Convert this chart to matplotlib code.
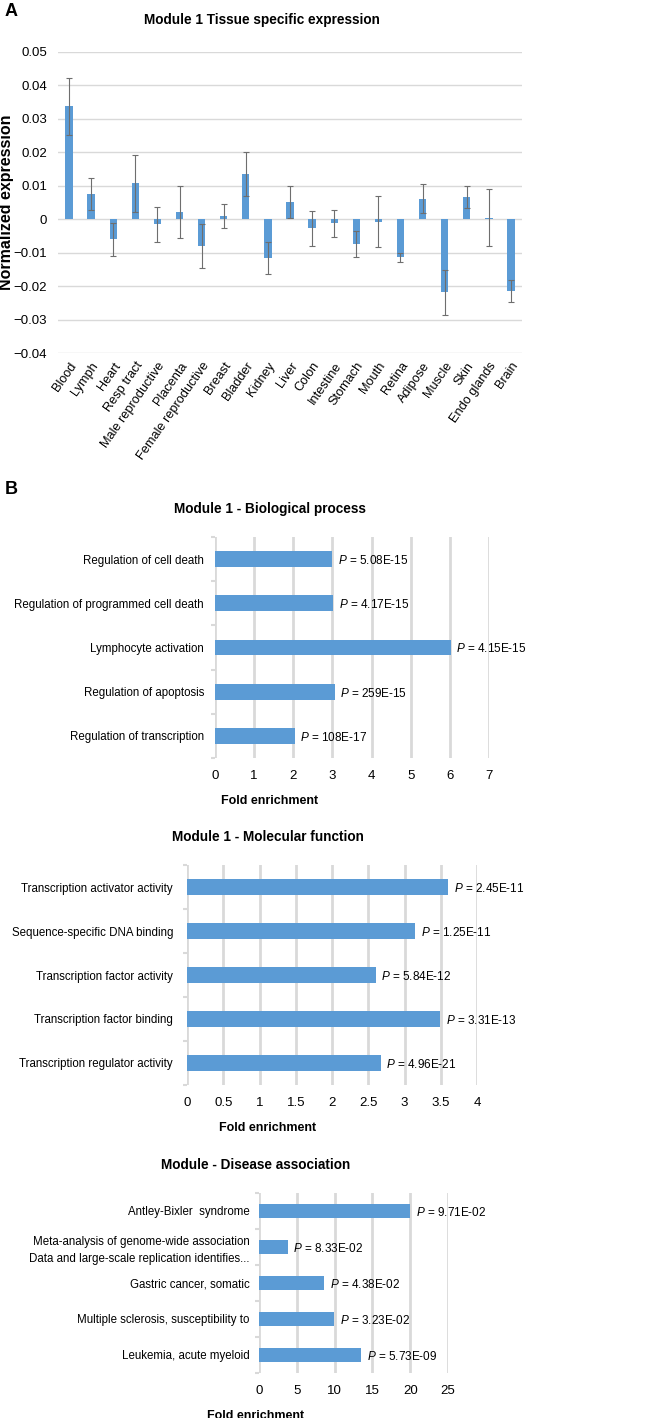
import numpy as np
import matplotlib
matplotlib.use("Agg")
import matplotlib.pyplot as plt

plt.rcParams['font.family'] = ['Liberation Sans', 'DejaVu Sans']
plt.rcParams['mathtext.fontset'] = 'custom'
plt.rcParams['mathtext.it'] = 'Liberation Sans:italic'
plt.rcParams['mathtext.rm'] = 'Liberation Sans'

# Panel A data
tissues = ["Blood", "Lymph", "Heart", "Resp tract", "Male reproductive", "Placenta",
           "Female reproductive", "Breast", "Bladder", "Kidney", "Liver", "Colon",
           "Intestine", "Stomach", "Mouth", "Retina", "Adipose", "Muscle", "Skin",
           "Endo glands", "Brain"]
expr = [0.0338, 0.0075, -0.0060, 0.0107, -0.0015, 0.0021, -0.0081, 0.0010, 0.0135,
        -0.0116, 0.0052, -0.0027, -0.0012, -0.0075, -0.0007, -0.0114, 0.0061,
        -0.0219, 0.0067, 0.0005, -0.0214]
expr_err = [0.0085, 0.0048, 0.0049, 0.0084, 0.0052, 0.0078, 0.0066, 0.0037, 0.0066,
            0.0047, 0.0048, 0.0052, 0.0040, 0.0039, 0.0077, 0.0013, 0.0043,
            0.0066, 0.0033, 0.0085, 0.0033]

# Panel B data
bp_terms = ["Regulation of cell death", "Regulation of programmed cell death",
            "Lymphocyte activation", "Regulation of apoptosis", "Regulation of transcription"]
bp_fold = [3.0, 3.02, 6.02, 3.06, 2.04]
bp_p = ["5.08E-15", "4.17E-15", "4.15E-15", "259E-15", "108E-17"]

mf_terms = ["Transcription activator activity", "Sequence-specific DNA binding",
            "Transcription factor activity", "Transcription factor binding",
            "Transcription regulator activity"]
mf_fold = [3.60, 3.15, 2.60, 3.49, 2.67]
mf_p = ["2.45E-11", "1.25E-11", "5.84E-12", "3.31E-13", "4.96E-21"]

da_terms = ["Antley-Bixler  syndrome",
            "Meta-analysis of genome-wide association\nData and large-scale replication identifies...",
            "Gastric cancer, somatic", "Multiple sclerosis, susceptibility to",
            "Leukemia, acute myeloid"]
da_fold = [20.0, 3.8, 8.6, 9.97, 13.5]
da_p = ["9.71E-02", "8.33E-02", "4.38E-02", "3.23E-02", "5.73E-09"]

W, H = 645, 1418
blue = '#5b9bd5'
grid_c = '#d9d9d9'

fig = plt.figure(figsize=(W / 100, H / 100), dpi=100)


def px_axes(left, right, top, bottom):
    return fig.add_axes([left / W, 1 - bottom / H, (right - left) / W, (bottom - top) / H])


############
# Panel A  #
############
ax = px_axes(58, 522, 52, 353)
x = np.arange(len(tissues))
ax.bar(x, expr, width=0.33, color=blue, zorder=2)
ax.errorbar(x, expr, yerr=expr_err, fmt='none', ecolor='#6e6e6e', elinewidth=0.8,
            capsize=2.5, capthick=0.8, zorder=3)
ax.set_ylim(-0.04, 0.05)
ax.set_xlim(-0.5, len(tissues) - 0.5)
ax.set_yticks(np.arange(-0.04, 0.0501, 0.01))
ax.set_yticklabels(["\u22120.04", "\u22120.03", "\u22120.02", "\u22120.01", "0",
                    "0.01", "0.02", "0.03", "0.04", "0.05"], fontsize=9.5)
ax.yaxis.grid(True, color=grid_c, linewidth=1.0, zorder=0)
ax.set_axisbelow(True)
ax.set_xticks(x)
ax.set_xticklabels(tissues, rotation=55, ha='right', rotation_mode='anchor', fontsize=9.2)
ax.tick_params(length=0, pad=5)
ax.tick_params(axis='y', pad=8)
for s in ax.spines.values():
    s.set_visible(False)
ax.set_title("Module 1 Tissue specific expression", fontsize=9.8, fontweight='bold',
             pad=20, x=(262 - 58) / 464)
fig.text(7 / W, 1 - 202 / H, "Normalized expression", fontsize=11.5, fontweight='bold',
         rotation=90, ha='center', va='center')

fig.text(5 / W, 1 - 12 / H, "A", fontsize=13, fontweight='bold', va='center')
fig.text(5 / W, 1 - 490 / H, "B", fontsize=13, fontweight='bold', va='center')


def hbar(ax, terms, fold, pvals, xmax, step, height, title, left, right, center,
         ticklabels=None, pad=8):
    y = np.arange(len(terms))
    ax.barh(y, fold, height=height, color=blue, zorder=2)
    for yi, f, p in zip(y, fold, pvals):
        ax.annotate(r"$\it{P}$ = " + p, (f, yi), xytext=(4, -1), textcoords='offset points',
                    va='center', ha='left', fontsize=8.5)
    ax.set_ylim(len(terms) - 0.5, -0.5)
    ax.set_xlim(0, xmax)
    ticks = np.arange(0, xmax + step / 2, step)
    ax.set_xticks(ticks)
    if ticklabels is not None:
        ax.set_xticklabels(ticklabels)
    ax.set_yticks(y)
    ax.set_yticklabels(terms, fontsize=8.3)
    for lbl in ax.get_yticklabels():
        lbl.set_linespacing(1.5)
    ax.set_yticks(np.arange(-0.5, len(terms), 1), minor=True)
    ax.xaxis.grid(True, color=grid_c, linewidth=2.0, zorder=0)
    ax.set_axisbelow(True)
    for s in ax.spines.values():
        s.set_visible(False)
    ax.tick_params(axis='x', length=0, labelsize=9.5, pad=9)
    ax.tick_params(axis='y', which='major', length=0, pad=pad)
    ax.tick_params(axis='y', which='minor', length=3, color=grid_c, width=1.5)
    cx = (center - left) / (right - left)
    ax.set_xlabel("Fold enrichment", fontsize=9, fontweight='bold', labelpad=9)
    ax.xaxis.label.set_x(cx)
    ax.set_title(title, fontsize=9.8, fontweight='bold', pad=17, x=cx)


ax1 = px_axes(215, 489, 537, 758)
hbar(ax1, bp_terms, bp_fold, bp_p, 7, 1, 0.36, "Module 1 - Biological process",
     215, 489, 270, pad=8)

ax2 = px_axes(187, 477, 865, 1085)
hbar(ax2, mf_terms, mf_fold, mf_p, 4, 0.5, 0.36, "Module 1 - Molecular function",
     187, 477, 268, ["0", "0.5", "1", "1.5", "2", "2.5", "3", "3.5", "4"], pad=10)

ax3 = px_axes(259, 448, 1193, 1373)
hbar(ax3, da_terms, da_fold, da_p, 25, 5, 0.37, "Module - Disease association",
     259, 448, 256, pad=7)

fig.savefig("out.png", dpi=100)
